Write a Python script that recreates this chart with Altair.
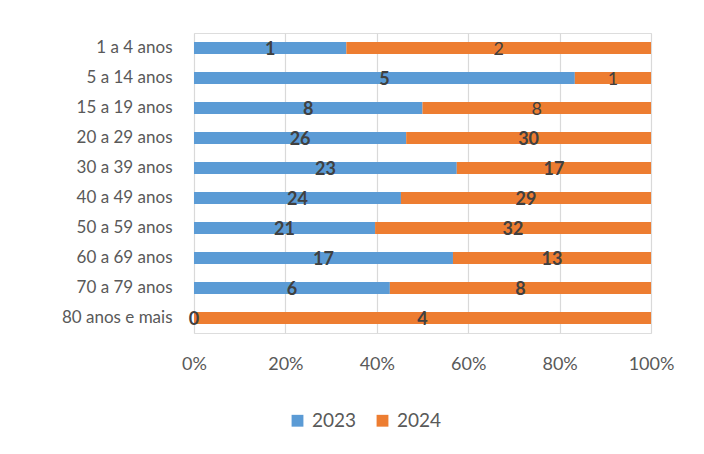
import altair as alt
import pandas as pd

categories = ["1 a 4 anos", "5 a 14 anos", "15 a 19 anos", "20 a 29 anos", "30 a 39 anos",
              "40 a 49 anos", "50 a 59 anos", "60 a 69 anos", "70 a 79 anos", "80 anos e mais"]
v2023 = [1, 5, 8, 26, 23, 24, 21, 17, 6, 0]
v2024 = [2, 1, 8, 30, 17, 29, 32, 13, 8, 4]
years = ["2023", "2024"]

rows = []
for i, c in enumerate(categories):
    rows.append({"cat": c, "year": years[0], "value": v2023[i], "idx": i})
    rows.append({"cat": c, "year": years[1], "value": v2024[i], "idx": i})
df = pd.DataFrame(rows)

FONT = "Lato"
color = alt.Color("year:N", scale=alt.Scale(domain=years, range=["#5B9BD5", "#ED7D31"]),
                  legend=alt.Legend(title=None, orient="none", direction="horizontal",
                                    legendX=94, legendY=378, symbolType="square",
                                    symbolSize=140, labelFontSize=19, labelFont=FONT,
                                    labelColor="#595959", columnPadding=16, labelOffset=5,
                                    symbolStrokeWidth=0))

y = alt.Y("cat:N", sort=categories, title=None,
          scale=alt.Scale(paddingInner=0.6, paddingOuter=0.3),
          axis=alt.Axis(ticks=False, domain=False, labelFontSize=17, labelFont=FONT,
                        labelColor="#595959", labelPadding=22))

base = alt.Chart(df)

bars = base.mark_bar().encode(
    x=alt.X("value:Q", stack="normalize", title=None,
            scale=alt.Scale(domain=[0, 1]),
            axis=alt.Axis(format="%", values=[0, 0.2, 0.4, 0.6, 0.8, 1.0], ticks=False,
                          domain=False, labelFontSize=18, labelFont=FONT, labelColor="#595959",
                          labelPadding=22, labelFlush=False, gridColor="#d9d9d9", gridWidth=1.2)),
    y=y,
    color=color,
    order=alt.Order("year:N", sort="ascending"),
)

lab = base.transform_joinaggregate(total="sum(value)", groupby=["cat"]).transform_window(
    cum="sum(value)", groupby=["cat"], sort=[alt.SortField("year")], frame=[None, 0]
).transform_calculate(
    mid="(datum.cum - datum.value/2)/datum.total",
    normal="datum.year == '2024' && datum.idx < 3",
)

text_bold = lab.transform_filter("!datum.normal").mark_text(
    fontSize=18, fontWeight="bold", font=FONT, color="#404040", dy=2
).encode(x="mid:Q", y=y, text="value:Q")

text_norm = lab.transform_filter("datum.normal").mark_text(
    fontSize=18, font=FONT, color="#404040", dy=2
).encode(x="mid:Q", y=y, text="value:Q")

chart = alt.layer(bars, text_bold, text_norm).properties(
    width=457, height=300,
    autosize=alt.AutoSizeParams(type="none"),
    padding={"left": 186, "top": 25, "right": 45, "bottom": 110},
).configure_view(stroke=None).configure(background="white")

chart.save("out.html", embed_options={"renderer": "svg", "actions": False})
